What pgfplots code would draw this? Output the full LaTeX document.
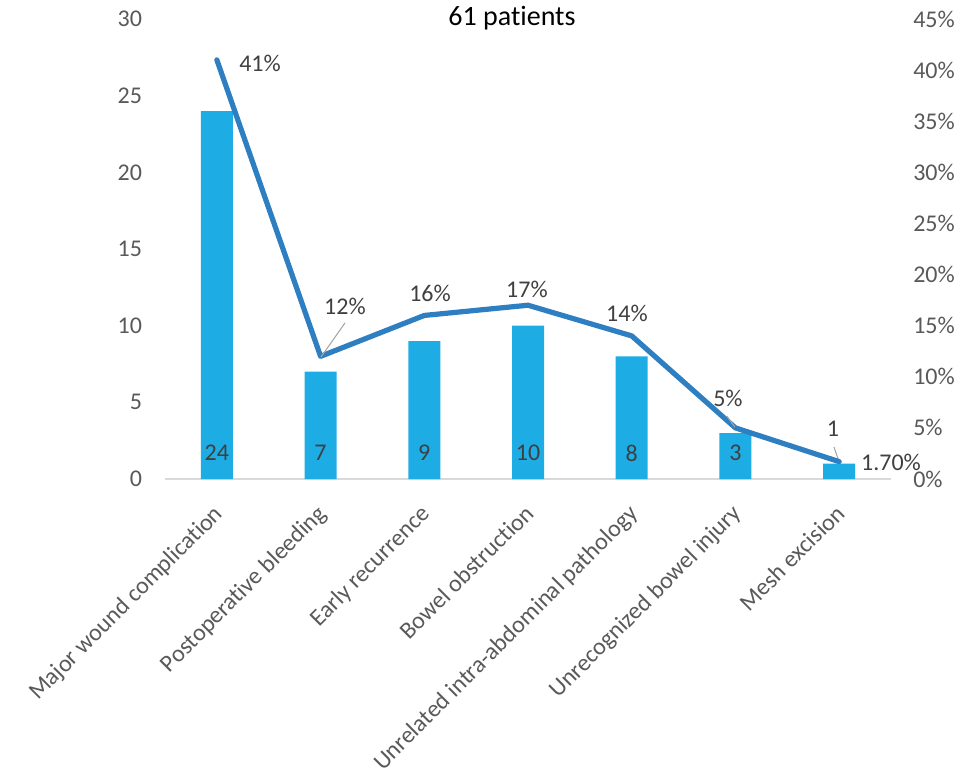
\documentclass[border=0pt]{standalone}
\usepackage{pgfplots}
\pgfplotsset{compat=1.18}
\usepackage{fontspec}
\setmainfont{Carlito}[Ligatures=CommonOff]

\definecolor{barblue}{RGB}{30,172,228}
\definecolor{lineblue}{RGB}{46,126,194}
\definecolor{axisgray}{RGB}{217,217,217}
\definecolor{ticktext}{RGB}{89,89,89}
\definecolor{labeltext}{RGB}{64,64,64}
\definecolor{leadergray}{RGB}{166,166,166}

\newcommand{\lblfont}{\fontsize{18}{21.6}\selectfont}

\pgfplotsset{
  shared/.style={
    at={(0,0)}, anchor=south west,
    scale only axis, width=544.5pt, height=345pt,
    xmin=-0.5, xmax=6.5, clip=false,
    /pgf/number format/assume math mode=true,
    tick label style={font=\lblfont, text=ticktext},
    ytick style={draw=none},
  },
}

\begin{document}
\begin{tikzpicture}[x=0.75pt,y=0.75pt]
% counts (left axis)
\begin{axis}[shared,
  ymin=0, ymax=30, ytick={0,5,...,30},
  axis lines*=left,
  y axis line style={draw=none},
  x axis line style={draw=axisgray, line width=1.1pt, -},
  xtick={0,...,6},
  xticklabels={Major wound complication, Postoperative bleeding, Early recurrence,
    Bowel obstruction, Unrelated intra-abdominal pathology,
    Unrecognized bowel injury, Mesh excision},
  xtick style={draw=none},
  xticklabel style={xshift=-3.5pt, rotate=45, anchor=north east, inner sep=0pt},
  xticklabel shift=18pt,
  extra x ticks={-0.5,0.5,...,6.5},
  extra x tick labels={},
  extra x tick style={xtick align=outside, major tick length=5.5pt,
    tick style={draw=axisgray, line width=1.1pt}},
  yticklabel style={anchor=east, inner sep=0pt, xshift=-17pt},
]
\addplot[ybar, bar width=24pt, fill=barblue, draw=none]
  coordinates {(0,24) (1,7) (2,9) (3,10) (4,8) (5,3) (6,1)};
% count labels
\foreach \i/\v in {0/24, 1/7, 2/9, 3/10, 4/8, 5/3}{
  \edef\tmp{\noexpand\node[font=\noexpand\lblfont, text=labeltext] at (axis cs:\i,1.7) {\v};}
  \tmp
}
\node[font=\lblfont, text=labeltext] at (axis cs:5.94,3.26) {1};
\draw[leadergray, line width=0.8pt] (axis cs:5.95,2.09) -- (axis cs:6.0,1.11);
\end{axis}

% percentages (right axis)
\begin{axis}[shared,
  ymin=0, ymax=45, ytick={0,5,...,45},
  axis y line*=right, axis x line=none,
  y axis line style={draw=none},
  yticklabel={\pgfmathprintnumber{\tick}\%},
  yticklabel style={anchor=west, inner sep=0pt, xshift=16.5pt},
]
\addplot[lineblue, line width=3.9pt, line join=round, line cap=round]
  coordinates {(0,41) (1,12) (2,16) (3,17) (4,14) (5,5) (6,1.7)};
\begin{scope}[every node/.style={font=\lblfont, text=labeltext}]
\node at (axis cs:0.416,40.70) {41\%};
\node at (axis cs:1.235,16.93) {12\%};
\node at (axis cs:2.055,18.20) {16\%};
\node at (axis cs:2.990,18.59) {17\%};
\node at (axis cs:3.954,16.24) {14\%};
\node at (axis cs:4.928,7.92) {5\%};
\node at (axis cs:6.50,1.66) {1.70\%};
\end{scope}
\draw[leadergray, line width=0.8pt] (axis cs:1.235,15.26) -- (axis cs:1.004,11.93);
\draw[leadergray, line width=0.8pt] (axis cs:4.917,6.16) -- (axis cs:4.994,5.09);
\end{axis}

\node[font=\fontsize{21}{25}\selectfont] at (347,461) {61 patients};

\pgfresetboundingbox
\path (-165,-296) rectangle (804,479);
\end{tikzpicture}
\end{document}
